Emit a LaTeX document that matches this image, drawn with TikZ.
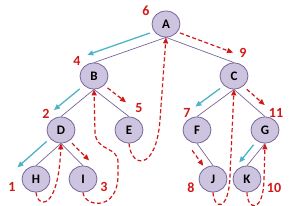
\documentclass[tikz,border=0pt]{standalone}
\usepackage{fontspec}
\setmainfont{Carlito}
\usepackage{xcolor}
\definecolor{cNode}{HTML}{CDC4E0}
\definecolor{cEdge}{HTML}{76659A}
\definecolor{cDown}{HTML}{4DB3C9}
\definecolor{cBack}{HTML}{D01818}
\usepackage{tikz}
\usetikzlibrary{positioning,arrows.meta,shapes.geometric,calc}
\tikzset{
  node-vert/.style={ellipse,draw=cEdge,line width=0.8pt,fill=cNode,
    minimum width=28pt,minimum height=26pt,inner sep=0pt,
    font=\bfseries\fontsize{13}{13}\selectfont},
  node-num/.style={text=cBack,inner sep=0pt,
    font=\bfseries\fontsize{14}{14}\selectfont},
  edge-tree/.style={draw=cEdge,line width=0.7pt},
  % cyan = going down, red dashed = going on / coming back
  arrow-down/.style={-{Triangle[length=6pt,width=5pt]},line width=1.3pt,draw=cDown},
  arrow-back/.style={-{Triangle[length=6pt,width=5pt]},line width=1.2pt,
    draw=cBack,dash pattern=on 4pt off 2.5pt},
}

\begin{document}
\begin{tikzpicture}[x=1pt,y=-1pt]
  \useasboundingbox (0,0) rectangle (293,206);
  \node[node-vert] (A) at (166,24)  {A};
  \node[node-vert] (B) at (94,76)   {B};
  \node[node-vert] (C) at (234,76)  {C};
  \node[node-vert] (D) at (61,130)  {D};
  \node[node-vert] (E) at (129,130) {E};
  \node[node-vert] (F) at (197,130) {F};
  \node[node-vert] (G) at (265,130) {G};
  \node[node-vert] (H) at (36,179)  {H};
  \node[node-vert] (I) at (83,179)  {I};
  \node[node-vert] (J) at (213,179) {J};
  \node[node-vert] (K) at (247,179) {K};
  \node[node-num] (n1)  at (12,187)  {1};
  \node[node-num] (n2)  at (46,114)  {2};
  \node[node-num] (n3)  at (104,187) {3};
  \node[node-num] (n4)  at (77,61)   {4};
  \node[node-num] (n5)  at (139,108) {5};
  \node[node-num] (n6)  at (146,11)  {6};
  \node[node-num] (n7)  at (187,113) {7};
  \node[node-num] (n8)  at (191,188) {8};
  \node[node-num] (n9)  at (243,53)  {9};
  \node[node-num] (n10) at (274,188) {10};
  \node[node-num] (n11) at (276,113) {11};
  \foreach \p/\c in {A/B,A/C,B/D,B/E,C/F,C/G,D/H,D/I,F/J,G/K}
    \draw[edge-tree] (\p.south) -- (\c.north);
  \draw[arrow-down] ($(A.south)!.18!(B.north)!9.5pt!90:(A.south)$) -- ($(A.south)!1.05!(B.north)!9.5pt!90:(A.south)$);
  \draw[arrow-down] ($(B.south)!.25!(D.north)!9.5pt!90:(B.south)$) -- ($(B.south)!1.03!(D.north)!9.5pt!90:(B.south)$);
  \draw[arrow-down] ($(D.south)!.28!(H.north)!11pt!90:(D.south)$) -- ($(D.south)!1.45!(H.north)!11pt!90:(D.south)$);
  \draw[arrow-down] ($(C.south)!.23!(F.north)!9pt!90:(C.south)$) -- ($(C.south)!.9!(F.north)!9pt!90:(C.south)$);
  \draw[arrow-down] ($(G.south)!.29!(K.north)!8pt!90:(G.south)$) -- ($(G.south)!1.09!(K.north)!8pt!90:(G.south)$);
  \draw[arrow-back] ($(A.south)!.16!(C.north)!9pt!-90:(A.south)$) -- ($(A.south)!.94!(C.north)!9pt!-90:(A.south)$);
  \draw[arrow-back] ($(B.south)!.22!(E.north)!9.5pt!-90:(B.south)$) -- ($(B.south)!.75!(E.north)!9.5pt!-90:(B.south)$);
  \draw[arrow-back] ($(D.south)!.24!(I.north)!8pt!-90:(D.south)$) -- ($(D.south)!1.02!(I.north)!8pt!-90:(D.south)$);
  \draw[arrow-back] ($(C.south)!.23!(G.north)!8.5pt!-90:(C.south)$) -- ($(C.south)!.81!(G.north)!8.5pt!-90:(C.south)$);
  \draw[arrow-back] ($(F.south)!.1!(J.north)!8pt!90:(F.south)$) -- ($(F.south)!.8!(J.north)!8pt!90:(F.south)$);
  \draw[arrow-back] (H.south) .. controls (36,206) and (58,215) .. (D.south);
  \draw[arrow-back] (I.south) .. controls (84,207) and (118,212) .. (118,175)
    -- (118,162) .. controls (118,146) and (96,152) .. (95,132) -- (B.south);
  \draw[arrow-back] (E.south) .. controls (131,168) and (156,172) .. (160,120) -- (A.south);
  \draw[arrow-back] (J.south) .. controls (214,210) and (229,212) .. (230,175) -- (C.south);
  \draw[arrow-back] (K.south) .. controls (247,210) and (263,214) .. (264,180) -- (G.south);
\end{tikzpicture}
\end{document}
